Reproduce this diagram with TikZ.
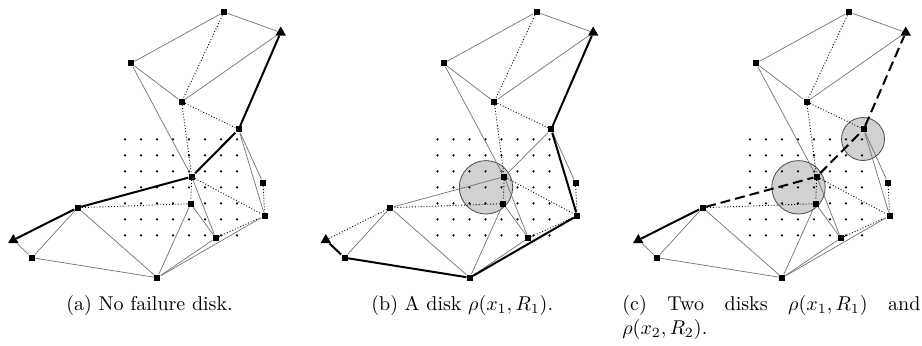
\documentclass[tikz,border=0pt]{standalone}
\usepackage{amsmath}
\usepackage{tikz}
\usetikzlibrary{shapes.geometric}

\begin{document}
\begin{tikzpicture}[
    x=0.5pt, y=-0.5pt,
    vtx/.style={rectangle, fill=black, inner sep=0pt, minimum size=3pt},
    term/.style={regular polygon, regular polygon sides=3, fill=black, inner sep=0pt, minimum size=6pt},
    link/.style={black!55, line width=0.35pt},
    weak/.style={densely dotted, line width=0.45pt},
    route/.style={line width=1pt},
    broken/.style={line width=1pt, dash pattern=on 5pt off 2.5pt},
    disk/.style={draw=black!70, fill=black!18, line width=0.4pt},
    caption/.style={anchor=base west, inner sep=0pt}
]
\useasboundingbox (0,0) rectangle (922,345);

% Failure disks
\draw[disk] (486,187.3) circle (26.7);
\draw[disk] (798.5,187.3) circle (26.7);
\draw[disk] (863,139) circle (21.5);

% The same network in each panel
\foreach \p/\dx in {a/0, b/312.5, c/625} {
  \begin{scope}[shift={(\dx,0)}]
    % grid of sample points
    \foreach \i in {0,...,7}
      \foreach \j in {0,...,6}
        \fill (125+16*\i,139.3+16*\j) circle (0.6pt);
    % terminals
    \node[term] (\p-s) at (13.3,240) {};
    \node[term] (\p-t) at (280.7,32.5) {};
    % relay nodes
    \node[vtx] (\p-v1) at (224,12) {};
    \node[vtx] (\p-v2) at (131,63.3) {};
    \node[vtx] (\p-v3) at (181.7,101.7) {};
    \node[vtx] (\p-v4) at (238.7,129.3) {};
    \node[vtx] (\p-v5) at (191.7,176.7) {};
    \node[vtx] (\p-v6) at (263,182.7) {};
    \node[vtx] (\p-v7) at (190.7,203.7) {};
    \node[vtx] (\p-v8) at (77.7,207.7) {};
    \node[vtx] (\p-v9) at (264.7,215.7) {};
    \node[vtx] (\p-v10) at (215.7,238) {};
    \node[vtx] (\p-v11) at (32,257.7) {};
    \node[vtx] (\p-v12) at (157.3,277.7) {};
    % links
    \foreach \u/\v in {v1/t, v1/v2, t/v3, v2/v3, v2/v5, v4/v6, v5/v10, v7/v10,
                       v7/v12, v8/v11, v8/v12, v12/v10}
      \draw[link] (\p-\u) -- (\p-\v);
    \foreach \u/\v in {v1/v3, v3/v4, v3/v5, v5/v7, v5/v9, v7/v8, v6/v9, v10/v9}
      \draw[weak] (\p-\u) -- (\p-\v);
  \end{scope}
}

% (a) shortest route
\draw[link] (a-s) -- (a-v11) -- (a-v12) -- (a-v9) -- (a-v4);
\draw[route] (a-s) -- (a-v8) -- (a-v5) -- (a-v4) -- (a-t);

% (b) route around one disk
\draw[weak] (b-s) -- (b-v8);
\draw[link] (b-v8) -- (b-v5) -- (b-v4);
\draw[route] (b-s) -- (b-v11) -- (b-v12) -- (b-v9) -- (b-v4) -- (b-t);

% (c) route through two disks
\draw[link] (c-s) -- (c-v11) -- (c-v12) -- (c-v9) -- (c-v4);
\draw[route] (c-s) -- (c-v8);
\draw[broken] (c-v8) -- (c-v5) -- (c-v4) -- (c-t);

% Captions
\node[caption] (capa) at (66,310) {(a) No failure disk.};
\node[caption] (capb) at (371,310) {(b) A disk $\rho(x_1,R_1)$.};
\node[caption, text width=149pt, align=justify] (capc) at (622,310)
  {(c) Two disks $\rho(x_1,R_1)$ and\linebreak $\rho(x_2,R_2)$.};
\end{tikzpicture}
\end{document}
